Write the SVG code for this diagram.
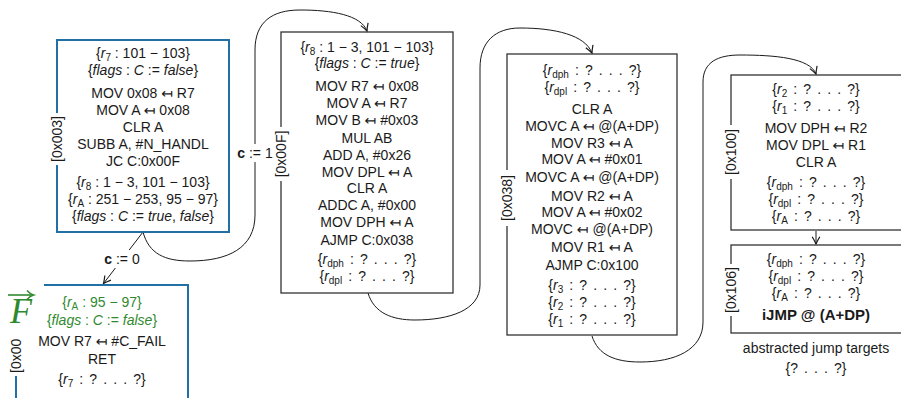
<svg xmlns="http://www.w3.org/2000/svg" width="901" height="398" viewBox="0 0 901 398">
<style>
.t{font-family:"Liberation Sans","DejaVu Sans",sans-serif;font-size:14px;fill:#1a1a1a;text-anchor:middle}
.i{font-style:italic}
.s{font-size:10px}
.g{fill:#2f8a2f}
.b{font-weight:bold}
.q{word-spacing:2.2px}
.lb{font-family:"Liberation Sans","DejaVu Sans",sans-serif;font-size:14px;fill:#1a1a1a;text-anchor:middle}
.blue{fill:none;stroke:#2070a6;stroke-width:2}
.blk{fill:none;stroke:#333;stroke-width:1.3}
.con{fill:none;stroke:#1a1a1a;stroke-width:1}
.bg{fill:#fff;stroke:none}
</style>
<defs>
<marker id="ah" markerUnits="userSpaceOnUse" markerWidth="12" markerHeight="12" refX="0" refY="0" viewBox="-7 -5 8 10" orient="auto" overflow="visible">
<path d="M-6,-3.2 Q-2,-0.8 0,0 Q-2,0.8 -6,3.2" fill="none" stroke="#1a1a1a" stroke-width="1"/>
</marker>
</defs>
<rect width="901" height="398" fill="#fff"/>

<g id="connectors">
<path class="con" d="M143,232 L103.5,283.5" marker-end="url(#ah)"/>
<path class="con" d="M143,232 C149,254 165,261 190,261 C228,261 255,248 255,215 L255,50 C255,22 272,10 300,10 C332,10 361,15 367,31" marker-end="url(#ah)"/>
<path class="con" d="M368,293 C374,313 392,320 415,320 C450,320 480,310 480,285 L480,68 C480,42 495,28 520,28 C555,28 585,35 592,53" marker-end="url(#ah)"/>
<path class="con" d="M592,336 C598,355 615,362 640,362 C675,362 703,350 703,322 L703,82 C703,62 718,55 740,55 C775,55 810,58 816,74" marker-end="url(#ah)"/>
<path class="con" d="M816,231 L816,244" marker-end="url(#ah)"/>
<rect class="bg" x="103" y="250" width="39" height="18"/>
<text class="t" x="122" y="264"><tspan class="b">c</tspan> := 0</text>
<rect class="bg" x="236" y="144" width="38" height="18"/>
<text class="t" x="255" y="158"><tspan class="b">c</tspan> := 1</text>
</g>

<g id="n003">
<rect class="blue" x="57" y="40" width="172" height="192"/>
<rect class="bg" x="49" y="113" width="16" height="52"/>
<text class="lb" transform="translate(62,139) rotate(-90)">[0x003]</text>
<text class="t" x="143" y="58">{<tspan class="i">r</tspan><tspan class="s" dy="3">7</tspan><tspan dy="-3"> : 101 − 103}</tspan></text>
<text class="t" x="143" y="75">{<tspan class="i">flags</tspan> : <tspan class="i">C</tspan> := <tspan class="i">false</tspan>}</text>
<text class="t" x="143" y="98">MOV 0x08 ↤ R7</text>
<text class="t" x="143" y="115">MOV A ↤ 0x08</text>
<text class="t" x="143" y="132">CLR A</text>
<text class="t" x="143" y="149">SUBB A, #N_HANDL</text>
<text class="t" x="143" y="166">JC C:0x00F</text>
<text class="t" x="143" y="187">{<tspan class="i">r</tspan><tspan class="s" dy="3">8</tspan><tspan dy="-3"> : 1 − 3, 101 − 103}</tspan></text>
<text class="t" x="143" y="204">{<tspan class="i">r</tspan><tspan class="s" dy="3">A</tspan><tspan dy="-3"> : 251 − 253, 95 − 97}</tspan></text>
<text class="t" x="143" y="221">{<tspan class="i">flags</tspan> : <tspan class="i">C</tspan> := <tspan class="i">true</tspan>, <tspan class="i">false</tspan>}</text>
</g>

<g id="nfail">
<rect class="blue" x="16" y="285" width="172" height="140"/>
<rect class="bg" x="0" y="279" width="44" height="55"/>
<rect class="bg" x="8" y="334" width="16" height="42"/>
<text class="lb" transform="translate(21,373) rotate(-90)" style="text-anchor:start">[0x00</text>
<line x1="8" y1="295" x2="32" y2="295" stroke="#2f8a2f" stroke-width="1.6"/>
<path d="M27,290.5 Q30,294 33.5,295 Q30,296 27,299.5" fill="none" stroke="#2f8a2f" stroke-width="1.6"/>
<text x="21" y="323" style="font-family:'Liberation Serif','DejaVu Serif',serif;font-style:italic;font-size:36px;fill:#2f8a2f;text-anchor:middle">F</text>
<text class="t g" x="102" y="307">{<tspan class="i">r</tspan><tspan class="s" dy="3">A</tspan><tspan dy="-3"> : 95 − 97}</tspan></text>
<text class="t g" x="102" y="325">{<tspan class="i">flags</tspan> : <tspan class="i">C</tspan> := <tspan class="i">false</tspan>}</text>
<text class="t" x="102" y="346">MOV R7 ↤ #C_FAIL</text>
<text class="t" x="102" y="364">RET</text>
<text class="t q" x="102" y="384">{<tspan class="i">r</tspan><tspan class="s" dy="3">7</tspan><tspan dy="-3"> :  ? . . . ?}</tspan></text>
</g>

<g id="n00F">
<rect class="blk" x="281" y="32" width="172" height="261"/>
<rect class="bg" x="273" y="127" width="16" height="54"/>
<text class="lb" transform="translate(286,154) rotate(-90)">[0x00F]</text>
<text class="t" x="367" y="52">{<tspan class="i">r</tspan><tspan class="s" dy="3">8</tspan><tspan dy="-3"> : 1 − 3, 101 − 103}</tspan></text>
<text class="t" x="367" y="68">{<tspan class="i">flags</tspan> : <tspan class="i">C</tspan> := <tspan class="i">true</tspan>}</text>
<text class="t" x="367" y="91">MOV R7 ↤ 0x08</text>
<text class="t" x="367" y="108">MOV A ↤ R7</text>
<text class="t" x="367" y="125">MOV B ↤ #0x03</text>
<text class="t" x="367" y="143">MUL AB</text>
<text class="t" x="367" y="160">ADD A, #0x26</text>
<text class="t" x="367" y="177">MOV DPL ↤ A</text>
<text class="t" x="367" y="193">CLR A</text>
<text class="t" x="367" y="210">ADDC A, #0x00</text>
<text class="t" x="367" y="227">MOV DPH ↤ A</text>
<text class="t" x="367" y="245">AJMP C:0x038</text>
<text class="t q" x="367" y="264">{<tspan class="i">r</tspan><tspan class="s" dy="3">dph</tspan><tspan dy="-3"> :  ? . . . ?}</tspan></text>
<text class="t q" x="367" y="281">{<tspan class="i">r</tspan><tspan class="s" dy="3">dpl</tspan><tspan dy="-3"> :  ? . . . ?}</tspan></text>
</g>

<g id="n038">
<rect class="blk" x="507" y="54" width="170" height="281"/>
<rect class="bg" x="499" y="170" width="16" height="56"/>
<text class="lb" transform="translate(512,198) rotate(-90)">[0x038]</text>
<text class="t q" x="592" y="75">{<tspan class="i">r</tspan><tspan class="s" dy="3">dph</tspan><tspan dy="-3"> :  ? . . . ?}</tspan></text>
<text class="t q" x="592" y="92">{<tspan class="i">r</tspan><tspan class="s" dy="3">dpl</tspan><tspan dy="-3"> :  ? . . . ?}</tspan></text>
<text class="t" x="592" y="114">CLR A</text>
<text class="t" x="592" y="131">MOVC A ↤ @(A+DP)</text>
<text class="t" x="592" y="148">MOV R3 ↤ A</text>
<text class="t" x="592" y="164">MOV A ↤ #0x01</text>
<text class="t" x="592" y="182">MOVC A ↤ @(A+DP)</text>
<text class="t" x="592" y="201">MOV R2 ↤ A</text>
<text class="t" x="592" y="217">MOV A ↤ #0x02</text>
<text class="t" x="592" y="234">MOVC ↤ @(A+DP)</text>
<text class="t" x="592" y="252">MOV R1 ↤ A</text>
<text class="t" x="592" y="270">AJMP C:0x100</text>
<text class="t q" x="592" y="290">{<tspan class="i">r</tspan><tspan class="s" dy="3">3</tspan><tspan dy="-3"> :  ? . . . ?}</tspan></text>
<text class="t q" x="592" y="307">{<tspan class="i">r</tspan><tspan class="s" dy="3">2</tspan><tspan dy="-3"> :  ? . . . ?}</tspan></text>
<text class="t q" x="592" y="324">{<tspan class="i">r</tspan><tspan class="s" dy="3">1</tspan><tspan dy="-3"> :  ? . . . ?}</tspan></text>
</g>

<g id="n100">
<rect class="blk" x="731" y="75" width="172" height="155"/>
<rect class="bg" x="723" y="125" width="16" height="54"/>
<text class="lb" transform="translate(736,152) rotate(-90)">[0x100]</text>
<text class="t q" x="816" y="94">{<tspan class="i">r</tspan><tspan class="s" dy="3">2</tspan><tspan dy="-3"> :  ? . . . ?}</tspan></text>
<text class="t q" x="816" y="111">{<tspan class="i">r</tspan><tspan class="s" dy="3">1</tspan><tspan dy="-3"> :  ? . . . ?}</tspan></text>
<text class="t" x="816" y="133">MOV DPH ↤ R2</text>
<text class="t" x="816" y="150">MOV DPL ↤ R1</text>
<text class="t" x="816" y="167">CLR A</text>
<text class="t q" x="816" y="187">{<tspan class="i">r</tspan><tspan class="s" dy="3">dph</tspan><tspan dy="-3"> :  ? . . . ?}</tspan></text>
<text class="t q" x="816" y="204">{<tspan class="i">r</tspan><tspan class="s" dy="3">dpl</tspan><tspan dy="-3"> :  ? . . . ?}</tspan></text>
<text class="t q" x="816" y="221">{<tspan class="i">r</tspan><tspan class="s" dy="3">A</tspan><tspan dy="-3"> :  ? . . . ?}</tspan></text>
</g>

<g id="n106">
<rect class="blk" x="731" y="245" width="172" height="88"/>
<rect class="bg" x="723" y="264" width="16" height="52"/>
<text class="lb" transform="translate(736,290) rotate(-90)">[0x106]</text>
<text class="t q" x="816" y="264">{<tspan class="i">r</tspan><tspan class="s" dy="3">dph</tspan><tspan dy="-3"> :  ? . . . ?}</tspan></text>
<text class="t q" x="816" y="281">{<tspan class="i">r</tspan><tspan class="s" dy="3">dpl</tspan><tspan dy="-3"> :  ? . . . ?}</tspan></text>
<text class="t q" x="816" y="298">{<tspan class="i">r</tspan><tspan class="s" dy="3">A</tspan><tspan dy="-3"> :  ? . . . ?}</tspan></text>
<text class="t b" x="816" y="320" style="font-size:15px">iJMP @ (A+DP)</text>
</g>

<g id="targets">
<text class="t" x="816" y="353">abstracted jump targets</text>
<text class="t q" x="816" y="373">{? . . . ?}</text>
</g>
</svg>
